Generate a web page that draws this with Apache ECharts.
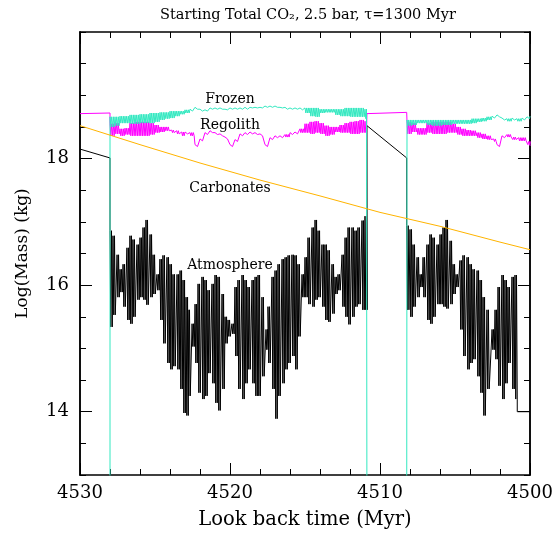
<!DOCTYPE html>
<html><head><meta charset="utf-8">
<script src="https://cdn.jsdelivr.net/npm/echarts@6/dist/echarts.min.js"></script>
<style>html,body{margin:0;padding:0;background:#fff}#c{width:557px;height:535px}</style>
</head><body><div id="c"></div>
<script>
// ---------- DATA (Log10 mass in kg vs look-back time in Myr) ----------
const titleText = 'Starting Total CO\u2082, 2.5 bar, \u03C4=1300 Myr';
const xName = 'Look back time (Myr)';
const yName = 'Log(Mass) (kg)';
const yMajorTicks = [14, 16, 18];

// Carbonates
const carbTimes = [4530, 4526, 4522, 4518, 4514, 4510, 4506, 4502, 4500];
const carbValues = [18.52, 18.22, 17.93, 17.66, 17.41, 17.15, 16.93, 16.68, 16.56];

// Atmosphere: smooth pieces
const atmPreTimes = [4530, 4528.0];
const atmPreValues = [18.15, 18.01];
const atmGapTimes = [4510.87, 4508.22];
const atmGapValues = [18.52, 18.01];
const atmTailTimes = [4500.85, 4500];
const atmTailValues = [14.0, 14.0];

// Atmosphere: oscillating piece A (peaks / troughs)
const atmTimesA = [4528.00,4527.80,4527.53,4527.33,4527.13,4526.87,4526.67,4526.47,4526.20,4526.00,
 4525.80,4525.60,4525.33,4525.13,4524.87,4524.67,4524.47,4524.20,4524.00,4523.80,
 4523.53,4523.33,4523.13,4522.93,4522.80,4522.53,4522.33,4522.13,4521.87,4521.67,
 4521.47,4521.20,4521.00,4520.80,4520.53,4520.33,4520.13,4519.87,4519.67,4519.47,
 4519.20,4519.00,4518.80,4518.53,4518.33,4518.13,4517.87,4517.60,4517.47,4517.20,
 4517.00,4516.80,4516.53,4516.33,4516.13,4515.87,4515.67,4515.47,4515.20,4515.00,
 4514.80,4514.53,4514.33,4514.13,4513.87,4513.67,4513.47,4513.20,4513.00,4512.80,
 4512.53,4512.33,4512.13,4511.87,4511.67,4511.47,4511.20,4511.00];
const atmHiA = [16.86,16.78,16.48,16.25,16.33,16.59,16.78,16.72,16.64,16.75,
 16.91,17.03,16.80,16.48,16.17,16.41,16.47,16.44,16.33,16.17,
 16.17,16.23,16.08,15.81,15.61,15.39,15.70,16.02,16.13,16.08,
 15.92,16.02,16.16,16.13,15.86,15.50,15.45,15.39,15.97,16.08,
 16.16,16.08,15.97,16.08,16.13,16.16,15.81,15.30,15.66,16.13,
 16.23,16.33,16.41,16.44,16.47,16.48,16.47,16.33,16.17,16.44,
 16.75,16.91,17.03,16.86,16.64,16.64,16.55,16.33,16.13,16.17,
 16.48,16.75,16.91,16.91,16.86,16.91,17.02,17.09];
const atmLoA = [15.34,15.53,15.81,15.89,15.66,15.45,15.39,15.50,15.77,15.81,
 15.77,15.69,15.81,15.86,15.92,15.45,15.08,14.77,14.67,14.72,
 14.67,14.36,13.98,13.94,14.25,15.03,14.77,14.30,14.20,14.25,
 14.61,14.45,14.14,14.02,14.36,15.08,15.19,15.23,14.88,14.36,
 14.20,14.45,14.67,14.45,14.25,14.25,14.56,14.98,14.77,14.36,
 13.89,14.25,14.45,14.67,14.77,14.88,14.67,15.19,15.81,15.81,
 15.70,15.66,15.77,15.81,15.66,15.45,15.42,15.55,15.86,15.92,
 15.66,15.50,15.38,15.50,15.66,15.70,15.61,15.61];

// Atmosphere: oscillating piece B
const atmTimesB = [4508.22,4508.00,4507.80,4507.53,4507.33,4507.13,4506.87,4506.67,4506.47,4506.20,
 4506.00,4505.80,4505.60,4505.33,4505.13,4504.93,4504.67,4504.47,4504.20,4504.00,
 4503.80,4503.53,4503.33,4503.13,4502.87,4502.53,4502.33,4502.13,4501.87,4501.67,
 4501.47,4501.20,4501.00];
const atmHiB = [16.94,16.88,16.64,16.44,16.17,16.44,16.64,16.80,16.75,16.64,
 16.80,16.91,17.03,16.70,16.33,16.17,16.39,16.47,16.44,16.33,
 16.25,16.23,16.08,15.81,15.61,15.30,15.61,15.97,16.16,16.08,
 15.97,16.13,16.16];
const atmLoB = [15.61,15.50,15.66,15.81,15.97,15.81,15.45,15.39,15.50,15.70,
 15.70,15.66,15.63,15.70,15.86,15.97,15.30,14.88,14.67,14.77,
 14.83,14.56,14.30,13.94,14.36,14.98,14.83,14.41,14.20,14.45,
 14.77,14.36,14.20];

// Frozen & Regolith oscillating bands (sampled every 1/3 Myr)
const bandStartA = 4528.0;
const bandStartB = 4508.2;
const bandStep = 1 / 3;
const frozenHiA = [18.66,18.66,18.67,18.67,18.69,18.69,18.70,18.70,18.72,18.72,
 18.73,18.73,18.75,18.75,18.75,18.77,18.78,18.81,18.78,18.77,
 18.80,18.80,18.80,18.78,18.80,18.80,18.80,18.81,18.81,18.81,
 18.81,18.83,18.83,18.83,18.81,18.81,18.80,18.80,18.80,18.80,
 18.80,18.80,18.78,18.78,18.78,18.78,18.78,18.80,18.80,18.80,
 18.80,18.78];
const frozenLoA = [18.50,18.52,18.56,18.56,18.55,18.55,18.56,18.56,18.56,18.58,
 18.61,18.63,18.64,18.67,18.70,18.72,18.75,18.78,18.75,18.75,
 18.78,18.78,18.78,18.77,18.78,18.78,18.78,18.78,18.80,18.80,
 18.80,18.81,18.81,18.81,18.80,18.78,18.78,18.78,18.77,18.72,
 18.67,18.66,18.72,18.73,18.73,18.69,18.67,18.67,18.66,18.66,
 18.66,18.63];
const frozenHiB = [18.61,18.61,18.61,18.61,18.61,18.61,18.61,18.61,18.61,18.61,
 18.61,18.61,18.61,18.63,18.63,18.64,18.66,18.67,18.69,18.64,
 18.63,18.64,18.63,18.64,18.66,18.67];
const frozenLoB = [18.52,18.53,18.56,18.56,18.53,18.52,18.52,18.53,18.53,18.55,
 18.55,18.55,18.55,18.56,18.58,18.59,18.61,18.64,18.66,18.61,
 18.59,18.61,18.59,18.61,18.63,18.66];
const frozenGapTimes = [4528.0, 4510.87, 4508.22];
const frozenEmpty = 12; // reservoir empty: below the plotted range

const regPreTimes = [4530, 4528.0];
const regPreValues = [18.71, 18.72];
const regGapTimes = [4510.87, 4508.22];
const regGapValues = [18.71, 18.73];
const regHiA = [18.55,18.56,18.47,18.48,18.56,18.58,18.58,18.58,18.56,18.53,
 18.50,18.50,18.45,18.44,18.42,18.42,18.41,18.22,18.31,18.41,
 18.44,18.41,18.39,18.34,18.22,18.30,18.39,18.41,18.42,18.41,
 18.39,18.22,18.33,18.36,18.36,18.38,18.41,18.42,18.47,18.55,
 18.58,18.59,18.56,18.52,18.50,18.50,18.53,18.56,18.58,18.59,
 18.61,18.59];
const regLoA = [18.36,18.39,18.36,18.38,18.36,18.36,18.36,18.36,18.38,18.41,
 18.42,18.44,18.41,18.39,18.36,18.39,18.36,18.19,18.28,18.38,
 18.41,18.38,18.36,18.31,18.19,18.27,18.36,18.38,18.39,18.38,
 18.36,18.19,18.30,18.33,18.33,18.34,18.38,18.39,18.41,18.41,
 18.39,18.41,18.39,18.36,18.38,18.42,18.41,18.41,18.39,18.39,
 18.41,18.41];
const regHiB = [18.58,18.56,18.48,18.48,18.56,18.58,18.58,18.58,18.58,18.55,
 18.50,18.47,18.45,18.44,18.41,18.39,18.36,18.31,18.22,18.36,
 18.38,18.34,18.33,18.33,18.27,18.22];
const regLoB = [18.39,18.42,18.38,18.38,18.41,18.39,18.39,18.39,18.41,18.41,
 18.38,18.36,18.36,18.36,18.33,18.31,18.30,18.27,18.19,18.33,
 18.34,18.30,18.28,18.28,18.22,18.20];

// In-plot labels
const labelNames = ['Frozen', 'Regolith', 'Carbonates', 'Atmosphere'];
const labelTimes = [4520.0, 4520.0, 4520.0, 4520.0];
const labelValues = [18.93, 18.53, 17.53, 16.31];

// ---------- BUILD ----------
const FONT = 'DejaVu Serif';
function pairs(ts, vs) { return ts.map((t, i) => [t, vs[i]]); }
// each sampled peak/trough pair drawn as two fast swings
function zig(ts, hi, lo, q) {
  const out = [];
  ts.forEach((t, i) => {
    out.push([t, hi[i]]); out.push([t - q, lo[i]]);
    out.push([t - 2 * q, hi[i]]); out.push([t - 3 * q, lo[i]]);
  });
  return out;
}
function zig2(t0, hi, lo, lastT) {
  const out = [];
  const q = bandStep / 6;
  hi.forEach((h, i) => {
    const t = Math.max(lastT, t0 - i * bandStep);
    for (let k = 0; k < 3; k++) {
      out.push([Math.max(lastT, t - 2 * k * q), h]);
      out.push([Math.max(lastT, t - (2 * k + 1) * q), lo[i]]);
    }
  });
  return out;
}

const atmData = [].concat(
  pairs(atmPreTimes, atmPreValues),
  zig(atmTimesA, atmHiA, atmLoA, 0.05),
  pairs(atmGapTimes, atmGapValues),
  zig(atmTimesB, atmHiB, atmLoB, 0.05),
  pairs(atmTailTimes, atmTailValues)
);
const frozenData = [].concat(
  [[frozenGapTimes[0], frozenEmpty]],
  zig2(bandStartA, frozenHiA, frozenLoA, 4510.9),
  [[frozenGapTimes[1], frozenEmpty], [frozenGapTimes[2], frozenEmpty]],
  zig2(bandStartB, frozenHiB, frozenLoB, 4500)
);
const regData = [].concat(
  pairs(regPreTimes, regPreValues),
  zig2(bandStartA, regHiA, regLoA, 4510.9),
  pairs(regGapTimes, regGapValues),
  zig2(bandStartB, regHiB, regLoB, 4500)
);
const carbData = pairs(carbTimes, carbValues);
const labelData = labelNames.map((n, i) => ({ name: n, value: [labelTimes[i], labelValues[i]] }));

const black = '#000';
function xAx(pos, showLabel) {
  return {
    type: 'value', position: pos, min: 4500, max: 4530, inverse: true, interval: 10,
    axisLine: { show: true, onZero: false, lineStyle: { color: black, width: 1.5 } },
    axisTick: { show: true, inside: true, length: 12, lineStyle: { color: black, width: 1 } },
    minorTick: { show: true, splitNumber: 5, length: 6, lineStyle: { color: black, width: 1 } },
    axisLabel: { show: showLabel, formatter: v => String(v), fontFamily: FONT, fontSize: 18, color: black, margin: 9 },
    splitLine: { show: false }, minorSplitLine: { show: false },
    name: showLabel ? xName : '', nameLocation: 'middle', nameGap: 35,
    nameTextStyle: { fontFamily: FONT, fontSize: 19.5, color: black }
  };
}
function yMinor(pos) {
  return {
    type: 'value', position: pos, min: 13, max: 20, interval: 0.5,
    axisLine: { show: true, onZero: false, lineStyle: { color: black, width: 1.5 } },
    axisTick: { show: true, inside: true, length: 6, lineStyle: { color: black, width: 1 } },
    axisLabel: { show: false }, splitLine: { show: false }
  };
}
function yMajor(pos, showLabel) {
  return {
    type: 'value', position: pos, min: 13, max: 20, interval: 0.5,
    axisLine: { show: true, onZero: false, lineStyle: { color: black, width: 1.5 } },
    axisTick: { show: true, inside: true, length: 12, customValues: yMajorTicks, lineStyle: { color: black, width: 1 } },
    axisLabel: { show: showLabel, customValues: yMajorTicks, formatter: v => String(v), fontFamily: FONT, fontSize: 18, color: black, margin: 11 },
    splitLine: { show: false },
    name: showLabel ? yName : '', nameLocation: 'middle', nameGap: 49,
    nameTextStyle: { fontFamily: FONT, fontSize: 17, color: black }
  };
}

const chart = echarts.init(document.getElementById('c'), null, { renderer: 'canvas' });
chart.setOption({
  animation: false,
  backgroundColor: '#fff',
  title: {
    text: titleText, left: 303, top: 3, textAlign: 'center',
    textStyle: { fontFamily: FONT, fontSize: 14.5, fontWeight: 'normal', color: black }
  },
  grid: { left: 80, right: 27, top: 32, bottom: 55, containLabel: false },
  xAxis: [xAx('bottom', true), xAx('top', false)],
  yAxis: [yMinor('left'), yMajor('left', true), yMinor('right'), yMajor('right', false)],
  series: [
    { name: 'Atmosphere', type: 'line', data: atmData, showSymbol: false, symbol: 'none',
      lineStyle: { color: '#000', width: 1 }, clip: true, silent: true, z: 2 },
    { name: 'Regolith', type: 'line', data: regData, showSymbol: false, symbol: 'none',
      lineStyle: { color: '#ff00ff', width: 1 }, clip: true, silent: true, z: 3 },
    { name: 'Frozen', type: 'line', data: frozenData, showSymbol: false, symbol: 'none',
      lineStyle: { color: '#33e8c0', width: 1 }, clip: true, silent: true, z: 4 },
    { name: 'Carbonates', type: 'line', data: carbData, showSymbol: false, symbol: 'none',
      lineStyle: { color: '#ffb400', width: 1 }, clip: true, silent: true, z: 5 },
    { name: 'labels', type: 'scatter', data: labelData, symbolSize: 1, silent: true, z: 6,
      itemStyle: { color: 'rgba(0,0,0,0)', opacity: 1 },
      label: { show: true, position: 'inside', formatter: p => p.name, opacity: 1,
        fontFamily: FONT, fontSize: 14, color: '#000', textBorderWidth: 0, textShadowBlur: 0 } }
  ]
});
</script></body></html>
